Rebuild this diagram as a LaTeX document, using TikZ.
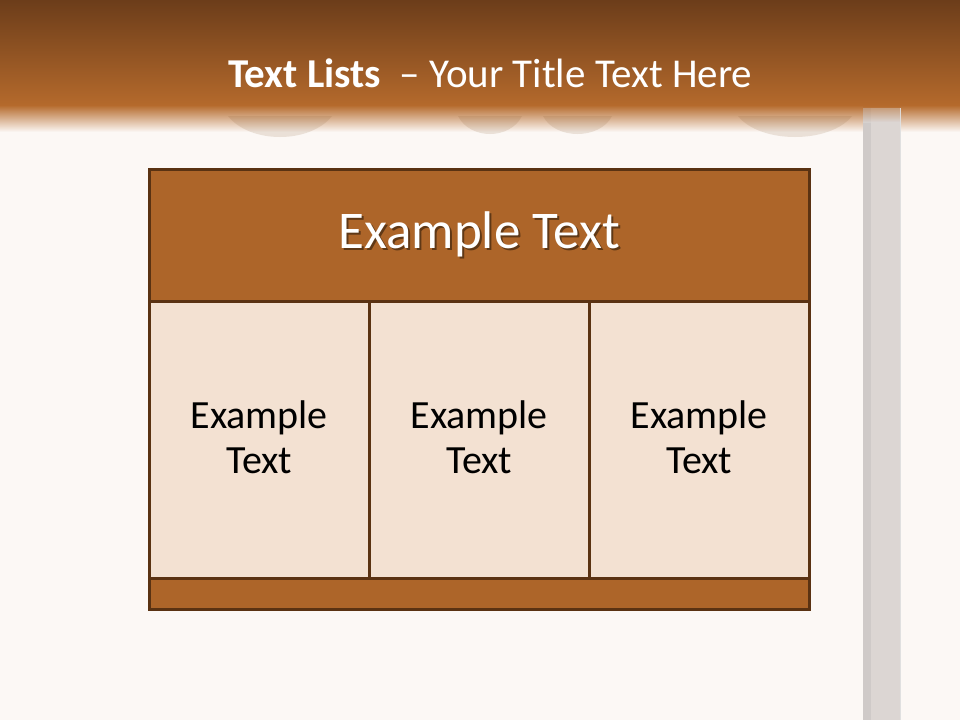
\documentclass[tikz,border=0pt]{standalone}
\usepackage{fontspec}
\setmainfont{Carlito}
\definecolor{bg}{HTML}{FCF8F5}
\definecolor{hdtop}{HTML}{6C3D1A}
\definecolor{hdbot}{HTML}{B56A2C}
\definecolor{brd}{HTML}{5A3212}
\definecolor{hfill}{HTML}{AD6529}
\definecolor{cfill}{HTML}{F3E1D2}
\definecolor{post}{HTML}{DCD6D3}
\definecolor{postd}{HTML}{CFCAC8}
\begin{document}
\begin{tikzpicture}[x=1pt,y=-1pt,
  cellbox/.style={draw=brd,line width=2.5pt,fill=cfill},
  hdbox/.style={draw=brd,line width=2.5pt,fill=hfill},
  celltext/.style={font=\fontsize{40}{45}\selectfont,align=center,text=black},
  bump/.style={fill=black!30!brown,opacity=0.15}]
\useasboundingbox (0,0) rectangle (960,720);
\fill[bg] (0,0) rectangle (960,720);
% header
\shade[top color=hdtop,bottom color=hdbot] (0,0) rectangle (960,106);
\shade[top color=hdbot,bottom color=bg] (0,105) rectangle (960,132);
% post
\fill[post] (863,108) rectangle (900,720);
\fill[postd] (863,108) rectangle (871,720);
\draw[white!88!black,line width=0.6pt] (900,108) -- (900,720);
\shade[top color=hdbot,bottom color=post,opacity=0.6] (863,106) rectangle (900,122);
% bumps
\fill[bump] (228,116) .. controls (250,144) and (310,144) .. (332,116) -- cycle;
\fill[bump] (458,116) .. controls (470,140) and (510,140) .. (522,116) -- cycle;
\fill[bump] (543,116) .. controls (555,140) and (600,140) .. (612,116) -- cycle;
\fill[bump] (738,116) .. controls (760,144) and (830,144) .. (852,116) -- cycle;
\node[anchor=base west,inner sep=0,text=white] (title) at (228,87)
  {\fontsize{41}{48}\selectfont\textbf{Text Lists}\hspace{0.45em}– Your Title Text Here};
% table
\node[hdbox,minimum width=660pt,minimum height=132pt,anchor=north west,inner sep=0] (head) at (148,168) {};
\node[font=\fontsize{53}{60}\selectfont,text=white] (headtext) at (head.center)
  {\rlap{\hspace{2pt}\raisebox{-2pt}{\textcolor{hfill!55!black}{Example Text}}}Example Text};
\node[cellbox,minimum width=220pt,minimum height=277pt,anchor=north west,inner sep=0] (c1) at (148,300) {};
\node[cellbox,minimum width=220pt,minimum height=277pt,anchor=north west,inner sep=0] (c2) at (368,300) {};
\node[cellbox,minimum width=220pt,minimum height=277pt,anchor=north west,inner sep=0] (c3) at (588,300) {};
\node[hdbox,minimum width=660pt,minimum height=31pt,anchor=north west,inner sep=0] (foot) at (148,577) {};
\node[celltext] (t1) at ([yshift=2pt]c1.center) {Example\\Text};
\node[celltext] (t2) at ([yshift=2pt]c2.center) {Example\\Text};
\node[celltext] (t3) at ([yshift=2pt]c3.center) {Example\\Text};
\end{tikzpicture}
\end{document}
